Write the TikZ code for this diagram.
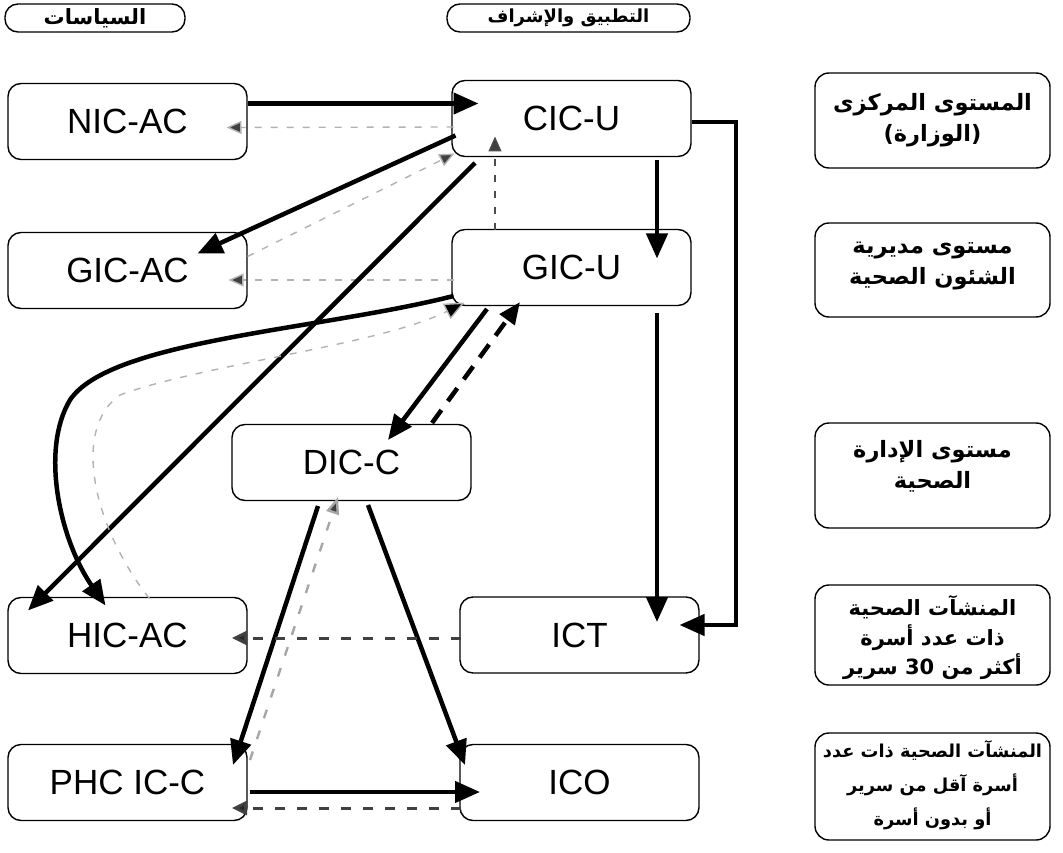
\documentclass[tikz,border=0pt]{standalone}
\usepackage{fontspec}
\setmainfont{Liberation Sans}
\newfontfamily\arabicfont[Script=Arabic]{DejaVu Sans}
\TeXXeTstate=1
\usetikzlibrary{arrows.meta,calc}

\tikzset{
  unit/.style={draw, rounded corners=13pt, line width=1.4pt,
    minimum width=239pt, minimum height=76pt, inner sep=0pt,
    font=\fontsize{35}{40}\selectfont},
  levelframe/.style={draw, rounded corners=14pt, line width=1.4pt,
    minimum width=235pt, inner sep=0pt},
  leveltext/.style={inner sep=0pt, align=center,
    font=\arabicfont\bfseries\fontsize{22.5}{31}\selectfont},
  head/.style={draw, rounded corners=13pt, line width=1.4pt,
    minimum height=28pt, inner sep=0pt,
    font=\arabicfont\bfseries\fontsize{18}{20}\selectfont},
  flow/.style={line width=4.5pt, -{Triangle[length=25pt,width=21pt]}},
  heavydash/.style={line width=4.5pt, dash pattern=on 16pt off 11pt,
    -{Triangle[length=22pt,width=18pt]}},
  middash/.style={line width=3pt, black!75, dash pattern=on 10pt off 12pt,
    -{Triangle[length=15pt,width=14pt,fill=black!85]}},
  lightdash/.style={line width=1.4pt, gray!60, dash pattern=on 7pt off 9pt,
    -{Triangle[length=15pt,width=13pt,fill=black!75]}},
  greydash/.style={line width=2.4pt, gray!70, dash pattern=on 9pt off 13pt,
    -{Triangle[length=17pt,width=13pt,fill=black!75]}},
}

\begin{document}
\begin{tikzpicture}[x=1pt,y=-1pt]
\path[use as bounding box] (0,0) rectangle (1063,853);

% column headings
\node[head, minimum width=180pt, font=\arabicfont\bfseries\fontsize{21}{22}\selectfont] (hpol) at (95,18) {\beginR السياسات\endR};
\node[head, minimum width=243pt] (himp) at (568.5,18) {\beginR التطبيق والإشراف\endR};

% policy column
\node[unit] (nic)   at (127.5,121.5) {NIC-AC};
\node[unit] (gicac) at (127.5,270.5) {GIC-AC};
\node[unit] (hic)   at (127.5,635.5) {HIC-AC};
\node[unit] (phc)   at (127.5,782.5) {PHC IC-C};

% implementation column
\node[unit] (cic)  at (571.5,118.5) {CIC-U};
\node[unit] (gicu) at (571.5,267.5) {GIC-U};
\node[unit] (dic)  at (351.5,462.5) {DIC-C};
\node[unit] (ict)  at (579.5,635)   {ICT};
\node[unit] (ico)  at (579.5,782.5) {ICO};

% levels: frames and their captions
\node[levelframe, minimum height=95pt]  (l1) at (932.5,120.5) {};
\node[levelframe, minimum height=94pt]  (l2) at (932.5,270)   {};
\node[levelframe, minimum height=105pt] (l3) at (932.5,475.5) {};
\node[levelframe, minimum height=100pt] (l4) at (932.5,635)   {};
\node[levelframe, minimum height=107pt] (l5) at (932.5,786.5) {};

\node[leveltext] (t1) at ($(l1.center)+(0,0)$)
  {\beginR المستوى المركزى\endR\\\beginR (الوزارة)\endR};
\node[leveltext] (t2) at ($(l2.center)+(0,-4)$)
  {\beginR مستوى مديرية\endR\\\beginR الشئون الصحية\endR};
\node[leveltext] (t3) at ($(l3.center)+(0,-9)$)
  {\beginR مستوى الإدارة\endR\\\beginR الصحية\endR};
\node[leveltext, font=\arabicfont\bfseries\fontsize{21}{29.5}\selectfont] (t4) at ($(l4.center)+(0,3)$)
  {\beginR المنشآت الصحية\endR\\\beginR ذات عدد أسرة\endR\\\beginR أكثر من \beginL 30\endL{} سرير\endR};
\node[leveltext, font=\arabicfont\bfseries\fontsize{17.8}{34}\selectfont] (t5) at ($(l5.center)+(0,-1)$)
  {\beginR المنشآت الصحية ذات عدد\endR\\\beginR أسرة آقل من سرير\endR\\\beginR أو بدون أسرة\endR};

% top level links
\draw[flow] ($(nic.center)+(120,-18)$) -- ($(cic.center)+(-93,-15)$);
\draw[lightdash] ($(cic.center)+(-118,8.5)$) -- ($(nic.center)+(99,6)$);
\draw[flow] ($(cic.center)+(-116,17)$) -- ($(gicac.center)+(70,-17)$);
\draw[lightdash] ($(gicac.center)+(120,-14)$) -- ($(cic.center)+(-117,35)$);
\draw[lightdash] ($(gicu.center)+(-118,12.5)$) -- ($(gicac.center)+(101,9.5)$);
\draw[lightdash, black!70] ($(gicu.center)+(-76.5,-37.5)$) -- ($(cic.center)+(-76.5,18)$);
\draw[flow] ($(cic.center)+(85.5,41.5)$) -- ($(gicu.center)+(85.5,-9)$);

% right hand routes down to ICT
\coordinate (elbow) at ($(ict.center)+(156.5,-10)$);
\draw[flow] ($(cic.center)+(120.5,3.5)$) -| (elbow) -- ($(ict.center)+(100,-10)$);
\draw[flow] ($(gicu.center)+(85.5,45.5)$) -- ($(ict.center)+(77.5,-13)$);

% links to HIC-AC
\draw[flow] ($(cic.center)+(-96.5,44.5)$) -- ($(hic.center)+(-99.5,-25)$);
\coordinate (bend) at (70,400);
\draw[flow] ($(gicu.center)+(-118,28.5)$) .. controls (320,330) and (110,340) .. (bend)
  .. controls (40,450) and (60,540) .. ($(hic.center)+(-22,-30)$);
\coordinate (inner) at (120,395);
\draw[lightdash, -{Triangle[length=20pt,width=17pt,fill=black]}]
  ($(hic.center)+(22,-37)$) .. controls (95,530) and (70,430) .. (inner)
  .. controls (200,365) and (380,345) .. ($(gicu.center)+(-107,35)$);

% district level
\draw[flow] ($(gicu.center)+(-84.5,41.5)$) -- ($(dic.center)+(36.5,-22.5)$);
\draw[heavydash] ($(dic.center)+(80.5,-39.5)$) -- ($(gicu.center)+(-51.5,34.5)$);
\draw[flow] ($(dic.center)+(-33.5,43.5)$) -- ($(phc.center)+(105.5,-17.5)$);
\draw[greydash] ($(phc.center)+(122.5,-22.5)$) -- ($(dic.center)+(-13.5,34.5)$);
\draw[flow] ($(dic.center)+(16.5,42.5)$) -- ($(ico.center)+(-114.5,-17.5)$);

% facility level
\draw[middash] ($(ict.center)+(-118.5,3)$) -- ($(hic.center)+(104.5,2.5)$);
\draw[flow] ($(phc.center)+(122.5,9.5)$) -- ($(ico.center)+(-99.5,9.5)$);
\draw[middash] ($(ico.center)+(-118.5,25.5)$) -- ($(phc.center)+(104.5,25.5)$);
\end{tikzpicture}
\end{document}
